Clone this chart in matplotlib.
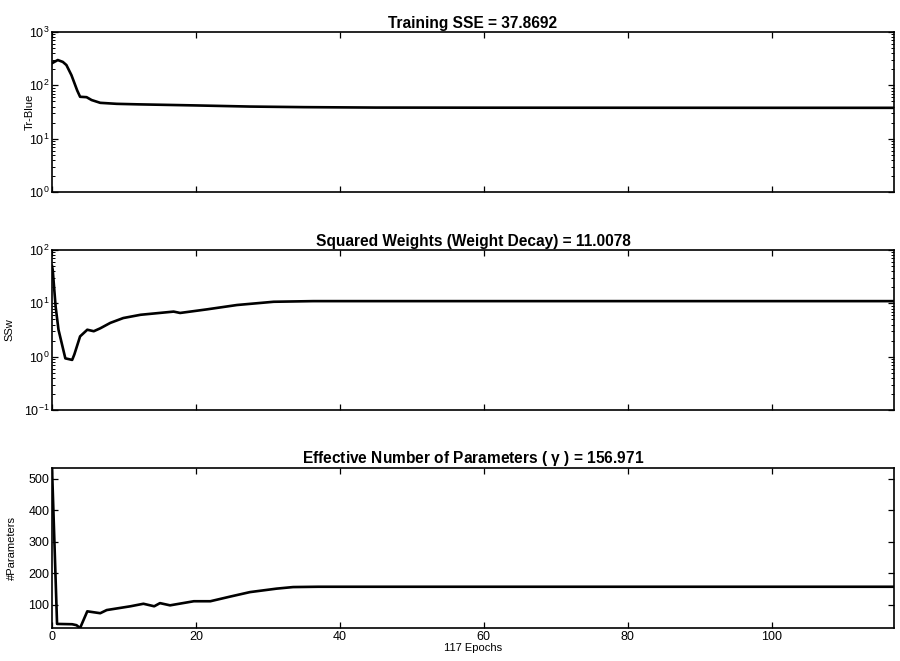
import numpy as np
import matplotlib
matplotlib.use('Agg')
import matplotlib.pyplot as plt
from matplotlib.ticker import LogLocator

plt.rcParams['font.family'] = ['Liberation Sans', 'DejaVu Sans']
plt.rcParams['mathtext.fontset'] = 'custom'
plt.rcParams['mathtext.rm'] = 'Liberation Sans'
plt.rcParams['mathtext.default'] = 'regular'

# training record (epoch, value)
sse_ep = [0, 0.8, 1.5, 2, 2.7, 3.5, 3.9, 4.8, 5.5, 6.7, 9, 12, 20, 27.5, 35, 45, 60, 80, 100, 117]
sse_val = [260, 298, 275, 240, 155, 80, 61, 60, 53, 47, 45, 44, 42, 40, 39, 38.3, 38.1, 38.0, 37.9, 37.87]

ssw_ep = [0, 0.1, 0.5, 0.9, 1.85, 2.8, 3.1, 3.9, 4.9, 5.8, 6.7, 8.1, 9.9, 12.3, 16.9, 17.8,
          21.5, 25.7, 30.8, 36.3, 45, 60, 80, 100, 117]
ssw_val = [50, 42, 8.7, 3.2, 0.93, 0.87, 1.1, 2.4, 3.2, 3.0, 3.4, 4.3, 5.3, 6.1, 7.0, 6.6,
           7.7, 9.3, 10.7, 11.0, 11.0, 11.0, 11.0, 11.0, 11.0]

gam_ep = [0, 0.7, 2.8, 3.4, 3.9, 4.9, 6.7, 7.6, 10.9, 12.7, 14.2, 15, 16.4, 19.7, 22, 24.8,
          27.5, 31.2, 33.5, 37, 45, 60, 80, 100, 117]
gam_val = [534, 39, 38, 35, 26, 79, 73, 83, 95, 103, 95, 105, 98, 111, 111, 126,
           140, 151, 156, 157, 157, 157, 157, 157, 156.97]

titles = ['Training SSE = 37.8692',
          'Squared Weights (Weight Decay) = 11.0078',
          'Effective Number of Parameters ( $\\gamma$ ) = 156.971']
ylabels = ['Tr-Blue', 'SSw', '#Parameters']
xticks = [0, 20, 40, 60, 80, 100]
n_epochs = 117

fig = plt.figure(figsize=(9, 6.61), dpi=100)
boxes = [[0.0578, 0.7095, 0.9356, 0.2421],
         [0.0578, 0.3797, 0.9356, 0.2421],
         [0.0578, 0.0499, 0.9356, 0.2421]]
label_x = [-0.021, -0.044, -0.042]

series = [(sse_ep, sse_val), (ssw_ep, ssw_val), (gam_ep, gam_val)]
for i in range(3):
    ax = fig.add_axes(boxes[i])
    ep, val = series[i]
    ax.plot(ep, val, color='black', lw=1.9)
    ax.set_xlim(0, n_epochs)
    ax.set_xticks(xticks)
    if i == 0:
        ax.set_yscale('log')
        ax.set_ylim(1, 1000)
    elif i == 1:
        ax.set_yscale('log')
        ax.set_ylim(0.1, 100)
    else:
        ax.set_ylim(min(val), max(val))
        ax.set_yticks([100, 200, 300, 400, 500])
    if i < 2:
        ax.yaxis.set_minor_locator(LogLocator(base=10, subs=np.arange(2, 10)))
        ax.set_xticklabels([])
    else:
        ax.set_xlabel(str(n_epochs) + ' Epochs', fontsize=8, labelpad=0)
    ax.set_title(titles[i], fontsize=11.2, fontweight='bold', pad=3)
    ax.set_ylabel(ylabels[i], fontsize=8)
    ax.yaxis.set_label_coords(label_x[i], 0.5)
    ax.tick_params(which='both', direction='in', top=True, right=True, labelsize=9, pad=2)
    ax.tick_params(which='major', length=4, width=0.9)
    ax.tick_params(which='minor', length=2, width=0.7)
    for s in ax.spines.values():
        s.set_linewidth(1.2)

fig.savefig('out.png', dpi=100)
